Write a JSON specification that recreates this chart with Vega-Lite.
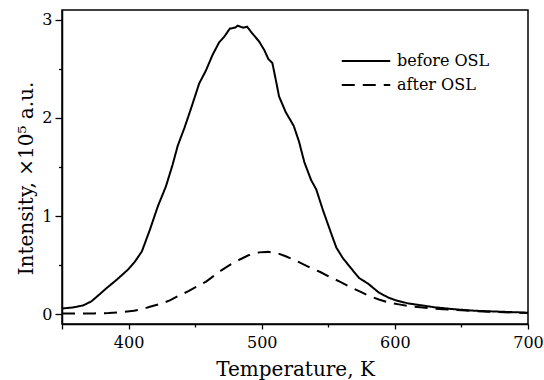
{
  "$schema": "https://vega.github.io/schema/vega-lite/v6.json",
  "width": 466,
  "height": 314,
  "autosize": {"type": "none"},
  "padding": {"left": 62, "top": 10, "right": 16, "bottom": 56},
  "background": "white",
  "config": {
    "view": {"stroke": "black", "strokeWidth": 1.5},
    "axis": {
      "labelFont": "DejaVu Serif",
      "titleFont": "DejaVu Serif",
      "labelColor": "black",
      "titleColor": "black",
      "labelFontSize": 16,
      "titleFontSize": 20,
      "titleFontWeight": "normal",
      "domainColor": "black",
      "domainWidth": 1.5,
      "tickColor": "black",
      "tickWidth": 1.3,
      "grid": false
    },
    "legend": {
      "labelFont": "DejaVu Serif",
      "labelFontSize": 16,
      "labelColor": "black"
    }
  },
  "data": {
    "values": [
      {"T": 350, "I": 0.058, "series": "before OSL"},
      {"T": 358, "I": 0.068, "series": "before OSL"},
      {"T": 366, "I": 0.09, "series": "before OSL"},
      {"T": 372, "I": 0.13, "series": "before OSL"},
      {"T": 378, "I": 0.2, "series": "before OSL"},
      {"T": 383, "I": 0.26, "series": "before OSL"},
      {"T": 391, "I": 0.35, "series": "before OSL"},
      {"T": 400, "I": 0.46, "series": "before OSL"},
      {"T": 405, "I": 0.54, "series": "before OSL"},
      {"T": 410, "I": 0.64, "series": "before OSL"},
      {"T": 416, "I": 0.86, "series": "before OSL"},
      {"T": 422, "I": 1.1, "series": "before OSL"},
      {"T": 428, "I": 1.3, "series": "before OSL"},
      {"T": 433, "I": 1.52, "series": "before OSL"},
      {"T": 437, "I": 1.72, "series": "before OSL"},
      {"T": 442, "I": 1.9, "series": "before OSL"},
      {"T": 447, "I": 2.1, "series": "before OSL"},
      {"T": 453, "I": 2.35, "series": "before OSL"},
      {"T": 458, "I": 2.48, "series": "before OSL"},
      {"T": 463, "I": 2.64, "series": "before OSL"},
      {"T": 468, "I": 2.77, "series": "before OSL"},
      {"T": 472, "I": 2.83, "series": "before OSL"},
      {"T": 476, "I": 2.91, "series": "before OSL"},
      {"T": 480, "I": 2.92, "series": "before OSL"},
      {"T": 482, "I": 2.94, "series": "before OSL"},
      {"T": 486, "I": 2.92, "series": "before OSL"},
      {"T": 489, "I": 2.93, "series": "before OSL"},
      {"T": 493, "I": 2.86, "series": "before OSL"},
      {"T": 498, "I": 2.78, "series": "before OSL"},
      {"T": 502, "I": 2.69, "series": "before OSL"},
      {"T": 505, "I": 2.6, "series": "before OSL"},
      {"T": 508, "I": 2.56, "series": "before OSL"},
      {"T": 511, "I": 2.36, "series": "before OSL"},
      {"T": 513, "I": 2.22, "series": "before OSL"},
      {"T": 518, "I": 2.06, "series": "before OSL"},
      {"T": 524, "I": 1.92, "series": "before OSL"},
      {"T": 528, "I": 1.76, "series": "before OSL"},
      {"T": 532, "I": 1.55, "series": "before OSL"},
      {"T": 537, "I": 1.37, "series": "before OSL"},
      {"T": 541, "I": 1.27, "series": "before OSL"},
      {"T": 546, "I": 1.06, "series": "before OSL"},
      {"T": 552, "I": 0.83, "series": "before OSL"},
      {"T": 556, "I": 0.68, "series": "before OSL"},
      {"T": 561, "I": 0.57, "series": "before OSL"},
      {"T": 567, "I": 0.47, "series": "before OSL"},
      {"T": 573, "I": 0.37, "series": "before OSL"},
      {"T": 580, "I": 0.31, "series": "before OSL"},
      {"T": 588, "I": 0.22, "series": "before OSL"},
      {"T": 595, "I": 0.17, "series": "before OSL"},
      {"T": 601, "I": 0.14, "series": "before OSL"},
      {"T": 610, "I": 0.11, "series": "before OSL"},
      {"T": 620, "I": 0.09, "series": "before OSL"},
      {"T": 630, "I": 0.07, "series": "before OSL"},
      {"T": 645, "I": 0.05, "series": "before OSL"},
      {"T": 660, "I": 0.035, "series": "before OSL"},
      {"T": 680, "I": 0.025, "series": "before OSL"},
      {"T": 700, "I": 0.015, "series": "before OSL"},
      {"T": 350, "I": 0.007, "series": "after OSL"},
      {"T": 360, "I": 0.007, "series": "after OSL"},
      {"T": 374, "I": 0.008, "series": "after OSL"},
      {"T": 385, "I": 0.012, "series": "after OSL"},
      {"T": 395, "I": 0.02, "series": "after OSL"},
      {"T": 404, "I": 0.035, "series": "after OSL"},
      {"T": 410, "I": 0.05, "series": "after OSL"},
      {"T": 416, "I": 0.075, "series": "after OSL"},
      {"T": 424, "I": 0.105, "series": "after OSL"},
      {"T": 431, "I": 0.14, "series": "after OSL"},
      {"T": 438, "I": 0.19, "series": "after OSL"},
      {"T": 445, "I": 0.235, "series": "after OSL"},
      {"T": 451, "I": 0.28, "series": "after OSL"},
      {"T": 458, "I": 0.33, "series": "after OSL"},
      {"T": 464, "I": 0.39, "series": "after OSL"},
      {"T": 470, "I": 0.45, "series": "after OSL"},
      {"T": 477, "I": 0.51, "series": "after OSL"},
      {"T": 484, "I": 0.56, "series": "after OSL"},
      {"T": 490, "I": 0.6, "series": "after OSL"},
      {"T": 498, "I": 0.63, "series": "after OSL"},
      {"T": 505, "I": 0.635, "series": "after OSL"},
      {"T": 512, "I": 0.62, "series": "after OSL"},
      {"T": 518, "I": 0.59, "series": "after OSL"},
      {"T": 525, "I": 0.55, "series": "after OSL"},
      {"T": 531, "I": 0.51, "series": "after OSL"},
      {"T": 537, "I": 0.47, "series": "after OSL"},
      {"T": 544, "I": 0.43, "series": "after OSL"},
      {"T": 551, "I": 0.38, "series": "after OSL"},
      {"T": 559, "I": 0.33, "series": "after OSL"},
      {"T": 566, "I": 0.28, "series": "after OSL"},
      {"T": 574, "I": 0.23, "series": "after OSL"},
      {"T": 580, "I": 0.19, "series": "after OSL"},
      {"T": 588, "I": 0.15, "series": "after OSL"},
      {"T": 595, "I": 0.12, "series": "after OSL"},
      {"T": 603, "I": 0.1, "series": "after OSL"},
      {"T": 612, "I": 0.08, "series": "after OSL"},
      {"T": 621, "I": 0.068, "series": "after OSL"},
      {"T": 636, "I": 0.05, "series": "after OSL"},
      {"T": 650, "I": 0.04, "series": "after OSL"},
      {"T": 670, "I": 0.025, "series": "after OSL"},
      {"T": 700, "I": 0.012, "series": "after OSL"}
    ]
  },
  "mark": {"type": "line", "color": "black", "strokeWidth": 2, "interpolate": "linear"},
  "encoding": {
    "x": {
      "field": "T",
      "type": "quantitative",
      "scale": {"domain": [350, 700], "nice": false, "zero": false},
      "axis": {
        "title": "Temperature, K",
        "values": [350, 400, 450, 500, 550, 600, 650, 700],
        "labelExpr": "datum.value % 100 === 0 ? datum.label : ''",
        "tickSize": {"condition": {"test": "datum.value % 100 === 0 || datum.value === 350", "value": 5}, "value": 3},
        "labelPadding": 5,
        "labelFlush": false,
        "titleY": 51,
        "titleBaseline": "alphabetic"
      }
    },
    "y": {
      "field": "I",
      "type": "quantitative",
      "scale": {"domain": [-0.1, 3.1], "nice": false, "zero": false},
      "axis": {
        "title": "Intensity, ×10⁵ a.u.",
        "values": [0, 0.5, 1, 1.5, 2, 2.5, 3],
        "labelExpr": "datum.value % 1 === 0 ? format(datum.value, 'd') : ''",
        "tickSize": {"condition": {"test": "datum.value % 1 === 0", "value": 7}, "value": 3.5},
        "labelPadding": 3,
        "labelFlush": false,
        "titleX": -30,
        "titleY": 168,
        "titleBaseline": "alphabetic"
      }
    },
    "detail": {"field": "series"},
    "strokeDash": {
      "field": "series",
      "type": "nominal",
      "scale": {"domain": ["before OSL", "after OSL"], "range": [[1, 0], [13, 8]]},
      "legend": {
        "title": null,
        "orient": "none",
        "legendX": 296,
        "legendY": 43,
        "padding": 0,
        "symbolType": "M-4.85,0H4.85",
        "symbolSize": 100,
        "symbolStrokeWidth": 2,
        "symbolStrokeColor": "black",
        "labelOffset": 23,
        "rowPadding": 8
      }
    }
  }
}
